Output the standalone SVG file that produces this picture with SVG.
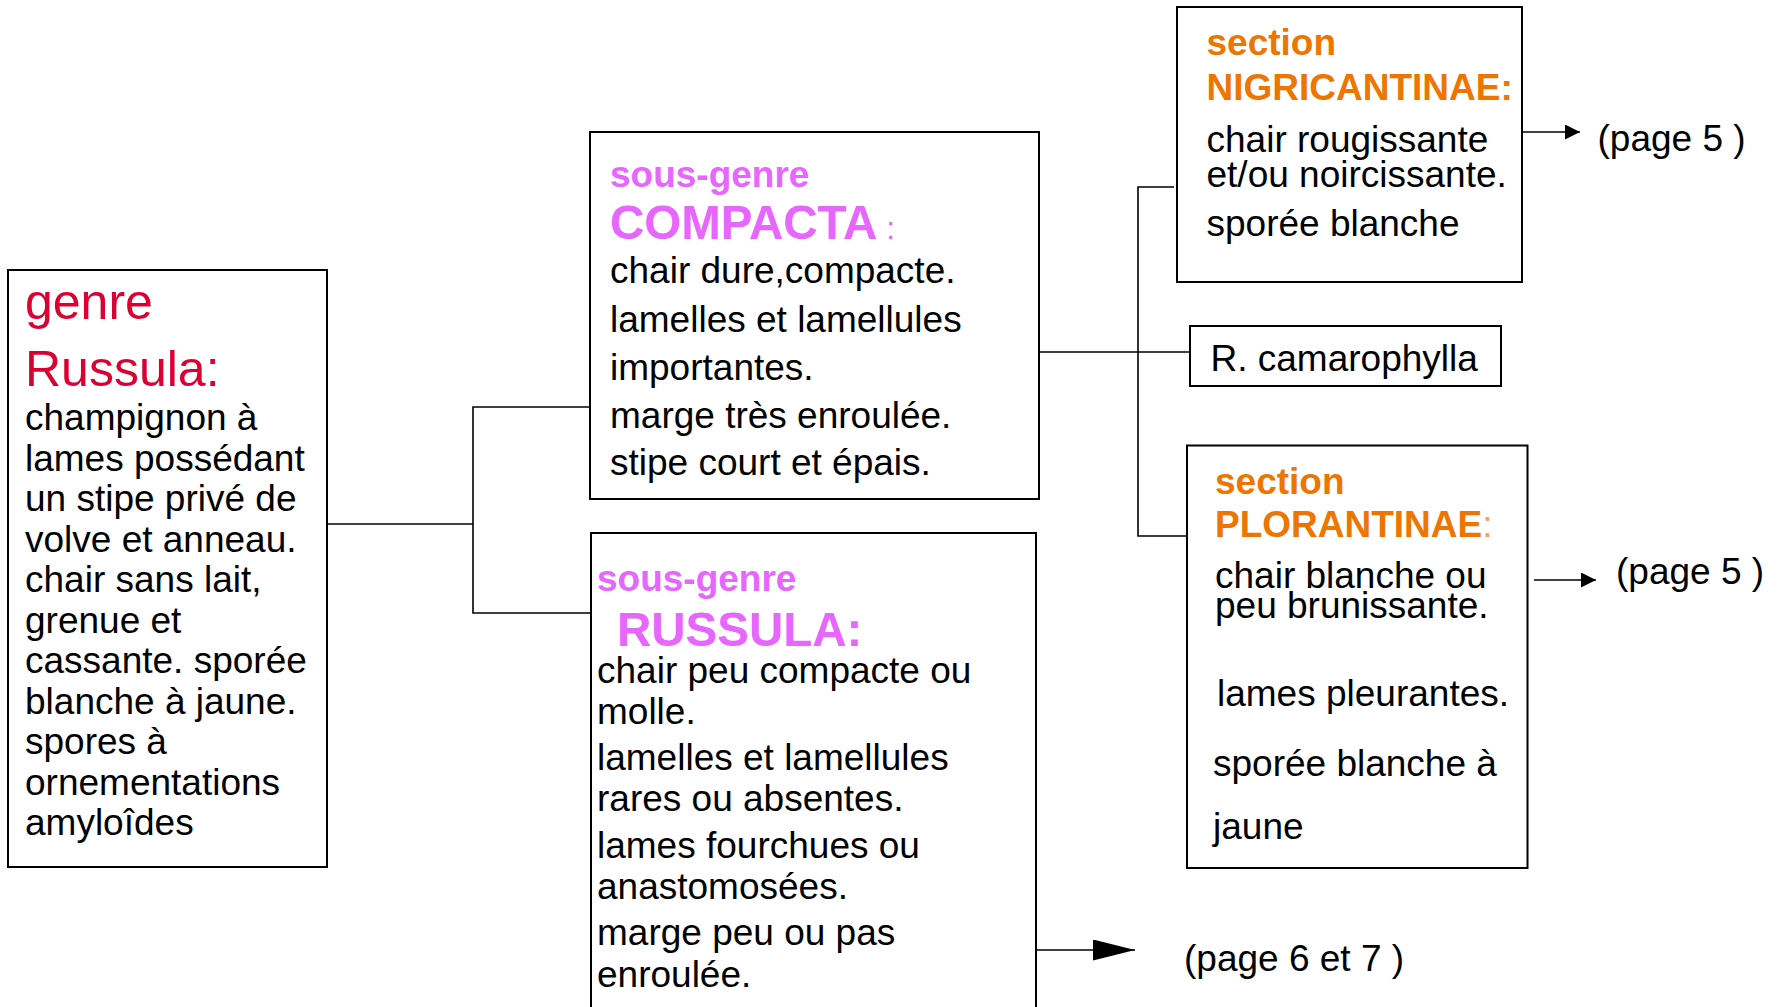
<svg xmlns="http://www.w3.org/2000/svg" width="1779" height="1007" viewBox="0 0 1779 1007">
<style>
.box{fill:#fff;stroke:#000;stroke-width:2}
.con{fill:none;stroke:#000;stroke-width:1.6}
text{font-family:"Liberation Sans",Arial,sans-serif;font-size:37px;fill:#000}
.red{fill:#DC0032;font-size:50px}
.mag{fill:#E766FF;font-weight:bold}
.big{font-size:47.5px}
.ora{fill:#EE7600;font-weight:bold}
</style>
<defs>
<marker id="arrS" viewBox="0 0 15 15" refX="15" refY="7.5" markerWidth="15" markerHeight="15" markerUnits="userSpaceOnUse" orient="auto"><path d="M0,0 L15,7.5 L0,15 z" fill="#000"/></marker>
<marker id="arrB" viewBox="0 0 42 21" refX="42" refY="10.5" markerWidth="42" markerHeight="21" markerUnits="userSpaceOnUse" orient="auto"><path d="M0,0 L42,10.5 L0,21 z" fill="#000"/></marker>
</defs>
<rect width="1779" height="1007" fill="#fff"/>
<g id="connectors">
<polyline class="con" points="327,524 473,524"/>
<polyline class="con" points="590,407 473,407 473,613 590,613"/>
<polyline class="con" points="1039,352 1190,352"/>
<polyline class="con" points="1174,187 1138,187 1138,536 1186,536"/>
<line class="con" x1="1518" y1="132" x2="1580" y2="132" marker-end="url(#arrS)"/>
<line class="con" x1="1534" y1="580" x2="1596" y2="580" marker-end="url(#arrS)"/>
<line class="con" x1="1036" y1="950" x2="1135" y2="950" marker-end="url(#arrB)"/>
</g>
<g id="genre">
<rect class="box" x="8" y="270" width="319" height="597"/>
<text x="25" y="319" class="red">genre</text>
<text x="25" y="386" class="red">Russula:</text>
<text x="25" y="430">champignon à</text>
<text x="25" y="470.5">lames possédant</text>
<text x="25" y="511">un stipe privé de</text>
<text x="25" y="551.5">volve et anneau.</text>
<text x="25" y="592">chair sans lait,</text>
<text x="25" y="632.5">grenue et</text>
<text x="25" y="673">cassante. sporée</text>
<text x="25" y="713.5">blanche à jaune.</text>
<text x="25" y="754">spores à</text>
<text x="25" y="794.5">ornementations</text>
<text x="25" y="835">amyloîdes</text>
</g>
<g id="compacta">
<rect class="box" x="590" y="132" width="449" height="367"/>
<text x="610" y="187" class="mag">sous-genre</text>
<text x="610" y="239" class="mag big">COMPACTA<tspan style="font-weight:normal;font-size:32px"> :</tspan></text>
<text x="610" y="283">chair dure,compacte.</text>
<text x="610" y="331.5">lamelles et lamellules</text>
<text x="610" y="379.5">importantes.</text>
<text x="610" y="427.5">marge très enroulée.</text>
<text x="610" y="475">stipe court et épais.</text>
</g>
<g id="russula">
<rect class="box" x="591" y="533" width="445" height="500"/>
<text x="597" y="590.5" class="mag">sous-genre</text>
<text x="617" y="646" class="mag big">RUSSULA:</text>
<text x="597" y="682.5">chair peu compacte ou</text>
<text x="597" y="723.5">molle.</text>
<text x="597" y="770">lamelles et lamellules</text>
<text x="597" y="811">rares ou absentes.</text>
<text x="597" y="857.5">lames fourchues ou</text>
<text x="597" y="898.5">anastomosées.</text>
<text x="597" y="945">marge peu ou pas</text>
<text x="597" y="986.5">enroulée.</text>
</g>
<g id="nigricantinae">
<rect class="box" x="1177" y="7" width="345" height="275"/>
<text x="1206.5" y="55" class="ora">section</text>
<text x="1206.5" y="99.5" class="ora">NIGRICANTINAE:</text>
<text x="1206.5" y="151.5">chair rougissante</text>
<text x="1206.5" y="186.5">et/ou noircissante.</text>
<text x="1206.5" y="236">sporée blanche</text>
</g>
<g id="camarophylla">
<rect class="box" x="1190" y="326" width="311" height="60"/>
<text x="1210.5" y="371">R. camarophylla</text>
</g>
<g id="plorantinae">
<rect class="box" x="1187" y="445.5" width="340.5" height="422.5"/>
<text x="1215" y="494" class="ora">section</text>
<text x="1215" y="537" class="ora">PLORANTINAE<tspan style="font-weight:normal;fill:#F3A25A">:</tspan></text>
<text x="1215" y="588">chair blanche ou</text>
<text x="1215" y="618">peu brunissante.</text>
<text x="1217" y="706">lames pleurantes.</text>
<text x="1213" y="775.5">sporée blanche à</text>
<text x="1213" y="838.5">jaune</text>
</g>
<g id="page5a"><text x="1597.5" y="150.5">(page 5 )</text></g>
<g id="page5b"><text x="1616" y="583.5">(page 5 )</text></g>
<g id="page67"><text x="1184" y="971">(page 6 et 7 )</text></g>
</svg>
